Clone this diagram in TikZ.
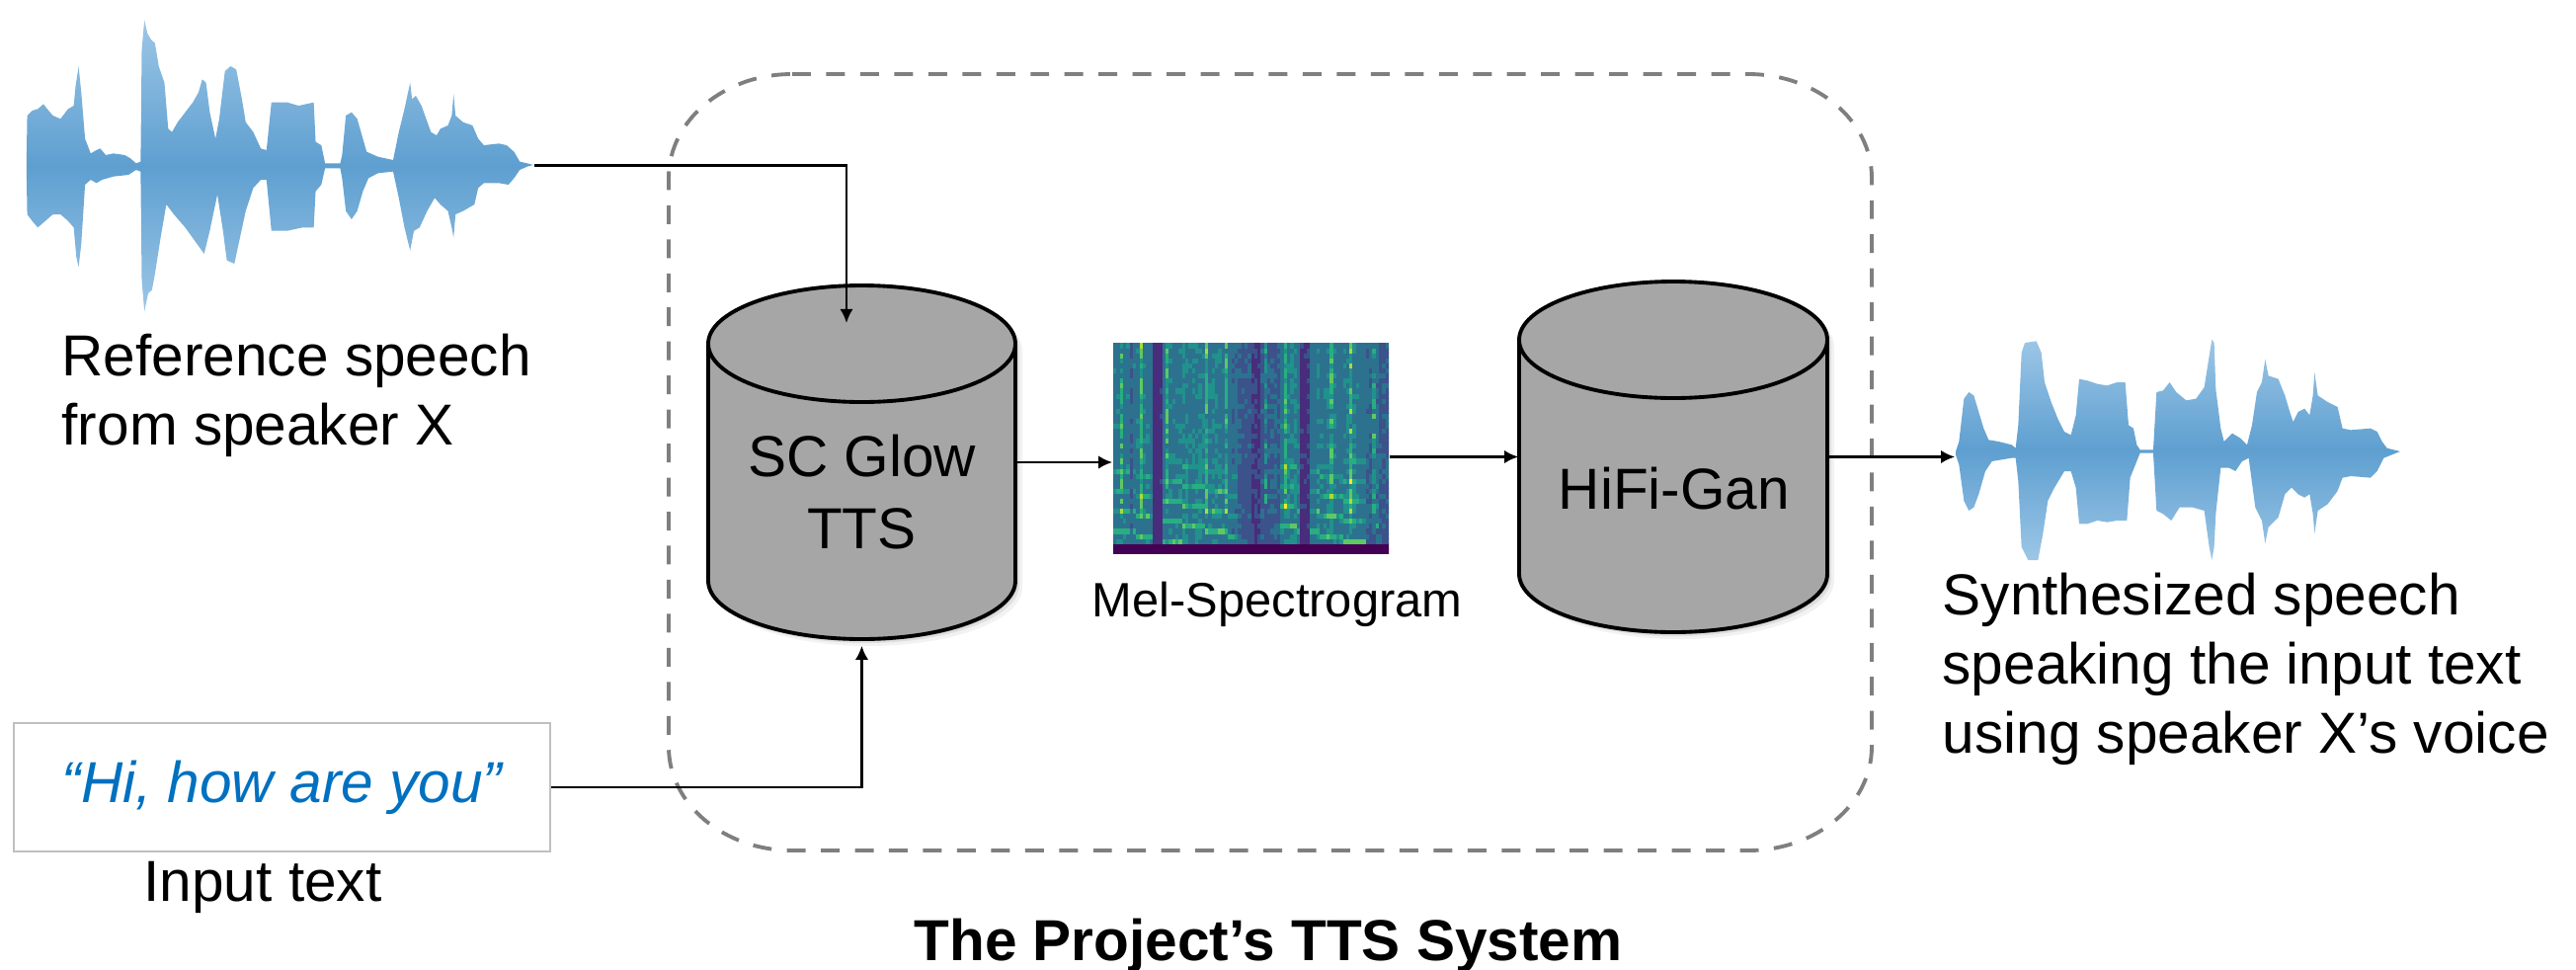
\documentclass[tikz,border=0pt]{standalone}
\usepackage{fontspec}
\setmainfont{Liberation Sans}
\usetikzlibrary{arrows.meta}
\definecolor{wave1}{HTML}{9CC6E6}
\definecolor{wave3}{HTML}{5E9FD0}
\definecolor{cylfill}{HTML}{A6A6A6}
\definecolor{dashgray}{HTML}{7F7F7F}
\definecolor{boxgray}{HTML}{BFBFBF}
\definecolor{hiblue}{HTML}{0070C0}
\definecolor{v0}{HTML}{440154}
\definecolor{v1}{HTML}{472D7B}
\definecolor{v2}{HTML}{3B528B}
\definecolor{v3}{HTML}{2C728E}
\definecolor{v4}{HTML}{21918C}
\definecolor{v5}{HTML}{28AE80}
\definecolor{v6}{HTML}{5EC962}
\definecolor{v7}{HTML}{ADDC30}
\definecolor{v8}{HTML}{FDE725}
\newcommand\mycyl[5]{%
  \foreach \s/\o in {2/0.10,4/0.08,7/0.05}{%
    \fill[black,opacity=\o] (#1-#4+\s,#2+\s) -- (#1-#4+\s,#3+\s) arc (180:0:#4 and #5) -- (#1+#4+\s,#2+\s) arc (0:-180:#4 and #5) -- cycle;}
  \filldraw[cylstyle] (#1-#4,#2) -- (#1-#4,#3) arc (180:0:#4 and #5) -- (#1+#4,#2) arc (0:-180:#4 and #5) -- cycle;
  \draw[cylstyle] (#1-#4,#2) arc (180:0:#4 and #5);
}
\begin{document}
\begin{tikzpicture}[x=0.01cm,y=-0.01cm,
  conn/.style={draw=black, line width=0.7pt, -{Latex[length=4pt,width=3.8pt]}},
  lbl/.style={font=\fontsize{16.65pt}{19.9pt}\selectfont, inner sep=0pt, align=left},
  cylstyle/.style={fill=cylfill, draw=black, line width=1.1pt},
  wavestyle/.style={top color=wave1, bottom color=wave1, middle color=wave3},
  holder/.style={inner sep=0pt, draw=none}]
\useasboundingbox (0,0) rectangle (2608,981);

% dashed system frame
\draw[dashgray, line width=1.1pt, dash pattern=on 5.4pt off 4.4pt]
  (802,75) -- (1770,75) arc (-90:0:125 and 105) -- (1895,756) arc (0:90:125 and 105)
  -- (802,861) arc (90:180:125 and 105) -- (677,180) arc (180:270:125 and 105) -- cycle;

% left waveform
\node[holder, minimum width=5.13cm, minimum height=2.95cm] (wl) at (283.5,167.5) {};
\begin{scope}[shift={(0,167)}, xscale=0.3827, yscale=0.3333]
\shade[wavestyle] (70,0) -- (72,-150) -- (85,-165) -- (100,-170) -- (115,-185) -- (125,-170) -- (140,-150) -- (160,-140) -- (180,-170) -- (195,-180) -- (200,-240) -- (208,-300) -- (215,-220) -- (225,-80) -- (240,-35) -- (255,-45) -- (265,-50) -- (280,-30) -- (300,-35) -- (330,-30) -- (345,-20) -- (360,-5) -- (372,-10) -- (375,-350) -- (382,-440) -- (390,-400) -- (400,-380) -- (410,-370) -- (420,-300) -- (435,-250) -- (445,-110) -- (455,-100) -- (470,-130) -- (490,-160) -- (510,-190) -- (525,-220) -- (535,-260) -- (545,-250) -- (555,-160) -- (570,-80) -- (580,-140) -- (595,-285) -- (610,-300) -- (625,-290) -- (640,-200) -- (650,-130) -- (670,-100) -- (690,-50) -- (705,-45) -- (718,-190) -- (760,-190) -- (790,-180) -- (830,-190) -- (835,-70) -- (850,-60) -- (860,-5) -- (900,-5) -- (905,-30) -- (915,-150) -- (930,-160) -- (945,-140) -- (960,-80) -- (970,-40) -- (1000,-25) -- (1040,-15) -- (1055,-100) -- (1070,-170) -- (1085,-250) -- (1090,-200) -- (1100,-210) -- (1115,-180) -- (1140,-100) -- (1155,-90) -- (1165,-110) -- (1185,-120) -- (1195,-150) -- (1200,-215) -- (1205,-150) -- (1225,-130) -- (1250,-120) -- (1265,-80) -- (1280,-60) -- (1320,-65) -- (1340,-60) -- (1360,-40) -- (1375,-10) -- (1395,-5) -- (1410,0)
 -- (1395,5) -- (1375,15) -- (1360,40) -- (1345,60) -- (1320,55) -- (1280,55) -- (1265,70) -- (1255,120) -- (1225,140) -- (1205,150) -- (1200,220) -- (1195,190) -- (1185,140) -- (1165,120) -- (1150,100) -- (1130,140) -- (1110,190) -- (1095,200) -- (1085,260) -- (1070,190) -- (1055,100) -- (1040,20) -- (1000,25) -- (975,40) -- (960,80) -- (945,140) -- (930,165) -- (915,140) -- (905,40) -- (900,10) -- (860,10) -- (850,60) -- (835,80) -- (830,190) -- (800,190) -- (760,200) -- (718,200) -- (705,45) -- (690,45) -- (670,70) -- (650,140) -- (635,220) -- (620,300) -- (600,290) -- (590,200) -- (575,90) -- (555,200) -- (540,270) -- (515,230) -- (490,190) -- (460,150) -- (440,120) -- (425,220) -- (410,330) -- (402,380) -- (392,390) -- (382,445) -- (375,350) -- (372,20) -- (360,15) -- (340,30) -- (300,35) -- (270,45) -- (255,55) -- (240,45) -- (225,60) -- (215,240) -- (208,310) -- (202,280) -- (195,190) -- (180,170) -- (160,150) -- (140,150) -- (120,170) -- (100,190) -- (85,170) -- (72,150) -- (70,10) -- cycle;
\end{scope}

% right waveform
\node[holder, minimum width=4.5cm, minimum height=2.25cm] (wr) at (2205,457) {};
\begin{scope}[shift={(1950,457)}, xscale=0.3333, yscale=0.3333]
\shade[wavestyle] (90,0) -- (100,-30) -- (115,-160) -- (130,-180) -- (145,-170) -- (160,-120) -- (175,-70) -- (190,-35) -- (220,-30) -- (260,-20) -- (272,-10) -- (280,-80) -- (290,-300) -- (300,-330) -- (335,-335) -- (350,-300) -- (360,-210) -- (380,-150) -- (400,-100) -- (420,-60) -- (440,-50) -- (455,-110) -- (465,-220) -- (490,-215) -- (520,-205) -- (550,-200) -- (580,-210) -- (605,-210) -- (615,-80) -- (630,-70) -- (640,-20) -- (650,-5) -- (690,-5) -- (700,-180) -- (720,-185) -- (740,-210) -- (760,-180) -- (790,-155) -- (820,-160) -- (845,-195) -- (860,-290) -- (868,-340) -- (875,-330) -- (880,-190) -- (895,-70) -- (905,-30) -- (930,-55) -- (955,-40) -- (975,-20) -- (990,-80) -- (1005,-180) -- (1020,-210) -- (1030,-280) -- (1040,-230) -- (1070,-220) -- (1090,-170) -- (1105,-120) -- (1115,-90) -- (1130,-120) -- (1150,-130) -- (1165,-110) -- (1175,-170) -- (1180,-240) -- (1190,-170) -- (1220,-150) -- (1250,-135) -- (1265,-70) -- (1290,-65) -- (1350,-70) -- (1370,-60) -- (1385,-30) -- (1400,-10) -- (1440,0)
 -- (1390,20) -- (1370,60) -- (1350,80) -- (1290,75) -- (1265,80) -- (1250,120) -- (1220,160) -- (1190,180) -- (1180,250) -- (1175,190) -- (1165,130) -- (1150,140) -- (1130,130) -- (1110,110) -- (1090,130) -- (1070,200) -- (1040,230) -- (1030,280) -- (1020,210) -- (1000,170) -- (980,20) -- (960,30) -- (940,60) -- (920,50) -- (895,50) -- (880,190) -- (875,290) -- (868,330) -- (860,290) -- (845,180) -- (810,170) -- (770,170) -- (745,210) -- (720,190) -- (700,180) -- (690,5) -- (650,5) -- (640,30) -- (620,80) -- (610,210) -- (580,210) -- (550,215) -- (520,210) -- (490,220) -- (465,220) -- (455,110) -- (440,60) -- (420,60) -- (390,110) -- (370,150) -- (355,250) -- (340,330) -- (310,330) -- (290,290) -- (280,90) -- (272,20) -- (260,20) -- (200,30) -- (180,60) -- (160,130) -- (145,170) -- (130,180) -- (115,150) -- (100,40) -- (90,10) -- cycle;
\end{scope}

% cylinders
\mycyl{872.5}{348}{588}{155.5}{59}
\mycyl{1694}{344}{581}{156}{59}
\node[holder, minimum width=3.11cm, minimum height=3.58cm] (glow) at (872.5,468) {};
\node[holder, minimum width=3.12cm, minimum height=3.55cm] (hifi) at (1694,462.5) {};
\node[lbl, font=\fontsize{16.65pt}{20.5pt}\selectfont, align=center, anchor=base] (glowtxt) at (872.5,555) {SC Glow\\TTS};
\node[lbl, anchor=base] (hifitxt) at (1695,515) {HiFi-Gan};

% mel spectrogram
\node[holder, minimum width=2.79cm, minimum height=2.13cm] (spec) at (1266.5,453.5) {};
\begin{scope}[shift={(1127,347)}]
\clip (0,0) rectangle (279,213);
\fill[v2] (0,0) rectangle (279,213);
\pgfmathsetseed{11}
\foreach \c in {0,...,83}{
  \pgfmathtruncatemacro\ci{int(\c*2/3)}
  \pgfmathsetmacro\E{{0.75,0.75,0.75,0.55,0.75,0.8,0.75,0.7,0.1,0.12,0.7,0.8,0.75,0.8,0.85,0.75,0.8,0.85,0.8,0.75,0.85,0.8,0.75,0.7,0.65,0.5,0.45,0.5,0.25,0.2,0.45,0.5,0.55,0.5,0.75,0.8,0.85,0.75,0.15,0.2,0.7,0.8,0.75,0.85,0.8,0.7,0.75,0.8,0.85,0.75,0.7,0.6,0.55,0.65,0.5,0.55}[\ci]}
  \pgfmathsetmacro\S{{0,0,1,0,0,0,0,0,1,0,0,0,0,0,0,0,1,0,0,0,0,0,0,0,0,0,0,0,1,0,0,0,0,0,1,0,0,0,0,0,0,0,0,0,0,0,1,0,0,0,0,0,1,0,0,0,0,0,0,0,0,0,0,0,0,0,1,0,0,0,0,0,1,0,0,0,0,0,0,1,0,0,0,0}[\c]}
  \foreach \r in {0,...,41}{
    \pgfmathsetmacro\t{(\r<2)?0.03:(0.08+0.37*\E+0.1*rnd+(\r<19)*(\E>0.6)*(mod(\r+int(\c/7),4)==0)*0.36*\E*(1-\r/30)*(0.6+0.6*rnd)+(\r>=8)*\S*0.35*rnd)}
    \pgfmathtruncatemacro\k{max(0,min(8,\t*9))}
    \fill[v\k] ({\c*3.3214},{213-(\r+1)*5.0714}) rectangle ++(4.1,5.9);
  }
}
\end{scope}

% input text box
\node[draw=boxgray, line width=0.6pt, minimum width=5.43cm, minimum height=1.3cm, inner sep=0pt,
      text=hiblue, font=\fontsize{16.65pt}{18.8pt}\selectfont\itshape] (txt) at (285.5,797) {“Hi, how are you”};

% labels
\node[lbl, anchor=base west] (reflbl) at (62,450) {Reference speech\\from speaker X};
\node[lbl, anchor=base west] (synlbl) at (1966,762) {Synthesized speech\\speaking the input text\\using speaker X’s voice};
\node[lbl, anchor=base] (inlbl) at (266,912) {Input text};
\node[inner sep=0pt, font=\fontsize{13.9pt}{16pt}\selectfont, anchor=base] (mellbl) at (1293,624) {Mel-Spectrogram};
\node[inner sep=0pt, font=\fontsize{16.65pt}{19pt}\selectfont\bfseries, anchor=base] (title) at (1284,972) {The Project’s TTS System};

% connectors
\coordinate (tip1) at (857,327);
\draw[conn] (wl.east) -| (tip1);
\draw[conn] (txt.east) -| ([yshift=-1.7pt]glow.south);
\draw[conn] (glow.east) -- (glow.east -| spec.west);
\draw[conn] (spec.east |- hifi.west) -- (hifi.west);
\draw[conn] (hifi.east) -- (hifi.east -| wr.west);
\end{tikzpicture}
\end{document}
